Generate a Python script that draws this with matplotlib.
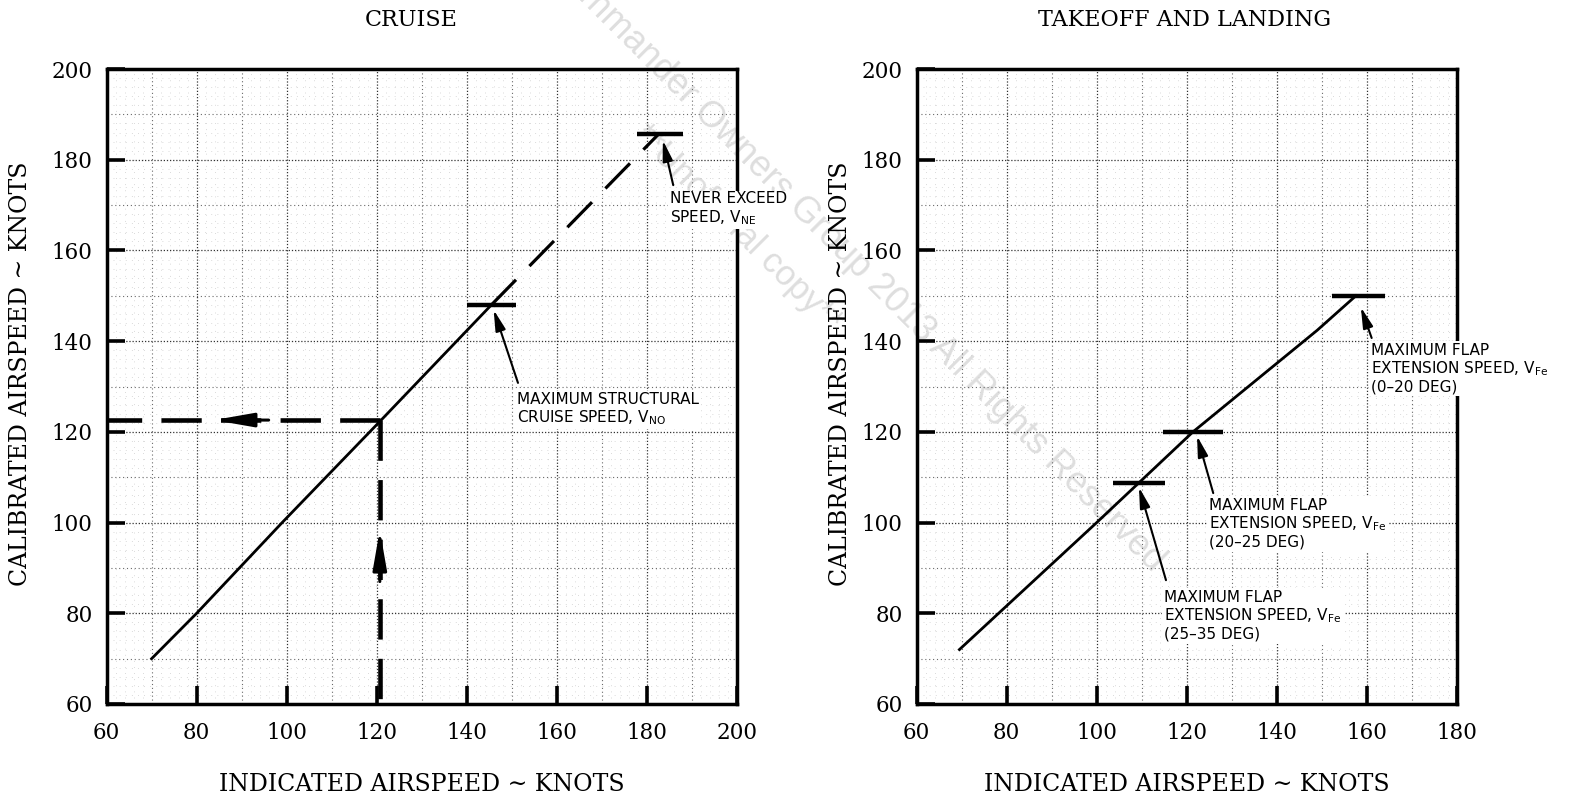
import numpy as np
import matplotlib
matplotlib.use("Agg")
import matplotlib.pyplot as plt
from matplotlib.ticker import MultipleLocator

# ---- data (knots) ----
# cruise: indicated vs calibrated airspeed
cruise_ias = [70, 80, 99, 121, 145.5]
cruise_cas = [70, 80, 100, 122.6, 148]
vne_ias = [145.5, 182.6]
vne_cas = [148, 185.6]
example_ias = 120.7
example_cas = 122.6
vno_bar_x = [140, 151]
vno_cas = 148
vne_bar_x = [177.8, 188.1]
vne_bar_cas = 185.6

# takeoff and landing
to_ias = [69.5, 100, 121.4, 149, 157.6]
to_cas = [72, 100, 120, 142.4, 150]
flap_bar_x = [[152.3, 164.0], [114.7, 128.0], [103.6, 115.2]]
flap_cas = [150, 120, 108.8]
flap_tip = [(158.7, 147.5), (122.3, 119.1), (109.4, 107.8)]
flap_tail = [(161.1, 140.7), (125.9, 106.5), (115.4, 87.3)]
flap_label_pos = [(161.0, 139.6), (125.0, 105.4), (115.0, 85.1)]
flap_labels = ["MAXIMUM FLAP\nEXTENSION SPEED, V$_{\\mathregular{Fe}}$\n(0\u201320 DEG)",
               "MAXIMUM FLAP\nEXTENSION SPEED, V$_{\\mathregular{Fe}}$\n(20\u201325 DEG)",
               "MAXIMUM FLAP\nEXTENSION SPEED, V$_{\\mathregular{Fe}}$\n(25\u201335 DEG)"]

serif = ["DejaVu Serif", "DejaVu Sans"]
sans = "DejaVu Sans"

fig = plt.figure(figsize=(15.87, 7.98), dpi=100)
ax1 = fig.add_axes([0.0672, 0.1178, 0.397, 0.7957])
ax2 = fig.add_axes([0.5776, 0.1178, 0.3403, 0.7957])


def style_axes(ax, xmax, ylabelpad):
    ax.set_facecolor("none")
    ax.set_xlim(60, xmax)
    ax.set_ylim(60, 200)
    ax.xaxis.set_major_locator(MultipleLocator(20))
    ax.yaxis.set_major_locator(MultipleLocator(20))
    ax.xaxis.set_minor_locator(MultipleLocator(10))
    ax.yaxis.set_minor_locator(MultipleLocator(10))
    ax.grid(which="major", color="#333333", lw=0.9, ls=(0, (1, 1.5)))
    ax.grid(which="minor", color="#6a6a6a", lw=0.8, ls=(0, (1, 2.5)))
    # faint dot rows every 2 knots
    fine_x = [v for v in np.arange(60, xmax, 2) if v % 10]
    fine_y = [v for v in np.arange(60, 200, 2) if v % 10]
    ax.vlines(fine_x, 60, 200, colors="#c4c4c4", lw=0.55, ls=(0, (1, 7)), zorder=0.5)
    ax.hlines(fine_y, 60, xmax, colors="#c4c4c4", lw=0.55, ls=(0, (1, 7)), zorder=0.5)
    ax.tick_params(which="major", direction="in", length=13, width=2.6,
                   labelsize=15.5, color="black")
    ax.tick_params(axis="x", which="major", pad=13)
    ax.tick_params(axis="y", which="major", pad=10)
    ax.tick_params(which="minor", length=0)
    for lab in ax.get_xticklabels() + ax.get_yticklabels():
        lab.set_family(serif)
    for sp in ax.spines.values():
        sp.set_linewidth(2.5)
        sp.set_color("black")
    ax.set_xlabel("INDICATED AIRSPEED \u223c KNOTS", family=serif, fontsize=17, labelpad=21)
    ax.set_ylabel("CALIBRATED AIRSPEED \u223c KNOTS", family=serif, fontsize=17,
                  labelpad=ylabelpad)
    ax.yaxis.label.set_y(0.52)


style_axes(ax1, 200, 14)
style_axes(ax2, 180, 7)
ax1.set_title("CRUISE", family=serif, fontsize=16, pad=31, x=0.483)
ax2.set_title("TAKEOFF AND LANDING", family=serif, fontsize=16, pad=31, x=0.497)

label_box = dict(fc="white", ec="none", pad=1.5)
arrow_thin = dict(arrowstyle="-|>,head_length=0.9,head_width=0.22", mutation_scale=14,
                  lw=1.5, color="black", shrinkA=0, shrinkB=0)

# ---- cruise chart ----
ax1.plot(cruise_ias, cruise_cas, color="black", lw=2.0, zorder=3)
ax1.plot(vne_ias, vne_cas, color="black", lw=2.3, ls=(0, (11, 6)), zorder=3)
ax1.hlines(vno_cas, *vno_bar_x, color="black", lw=3.2, zorder=3)
ax1.hlines(vne_bar_cas, *vne_bar_x, color="black", lw=3.2, zorder=3)

# example path: up from IAS, then left to CAS
ax1.plot([example_ias, example_ias], [example_cas, 60], color="black", lw=3.3,
         ls=(0, (8.8, 4.2)), zorder=3, clip_on=False)
ax1.plot([example_ias, 60], [example_cas, example_cas], color="black", lw=3.3,
         ls=(0, (8.8, 4.2)), zorder=3, clip_on=False)
arrow_thick = dict(arrowstyle="-|>,head_length=2.4,head_width=0.42", mutation_scale=10,
                   lw=2.2, color="black", shrinkA=0, shrinkB=0)
ax1.annotate("", xy=(83.8, example_cas), xytext=(96, example_cas), arrowprops=arrow_thick)
ax1.annotate("", xy=(example_ias, 98.4), xytext=(example_ias, 87), arrowprops=arrow_thick)

ax1.annotate("", xy=(146.0, 146.9), xytext=(151.4, 130.8), arrowprops=arrow_thin)
ax1.text(151.1, 128.9, "MAXIMUM STRUCTURAL\nCRUISE SPEED, V$_{\\mathregular{NO}}$",
         family=sans, fontsize=11, ha="left", va="top", linespacing=1.1,
         bbox=label_box, zorder=4, clip_on=False)
ax1.annotate("", xy=(183.6, 184.3), xytext=(185.9, 174.4), arrowprops=arrow_thin)
ax1.text(185.2, 173.0, "NEVER EXCEED\nSPEED, V$_{\\mathregular{NE}}$",
         family=sans, fontsize=11, ha="left", va="top", linespacing=1.1,
         bbox=label_box, zorder=4, clip_on=False)

# ---- takeoff and landing chart ----
ax2.plot(to_ias, to_cas, color="black", lw=2.0, zorder=3)
for bx, cas, tip, tail, pos, txt in zip(flap_bar_x, flap_cas, flap_tip, flap_tail,
                                        flap_label_pos, flap_labels):
    ax2.hlines(cas, *bx, color="black", lw=3.2, zorder=3)
    ax2.annotate("", xy=tip, xytext=tail, arrowprops=arrow_thin)
    ax2.text(pos[0], pos[1], txt, family=sans, fontsize=11, ha="left", va="top",
             linespacing=1.1, bbox=label_box, zorder=4, clip_on=False)

# watermark of the scanned page
fig.text(855 / 1587, 1 - 262 / 798, "Commander Owners Group 2013 All Rights Reserved",
         family="Liberation Sans", fontsize=26, color="#dedede", rotation=-45,
         rotation_mode="anchor", ha="center", va="center", zorder=-1)
fig.text(738 / 1587, 1 - 228 / 798, "**Unofficial copy**",
         family="Liberation Sans", fontsize=25, color="#dedede", rotation=-45,
         rotation_mode="anchor", ha="center", va="center", zorder=-1)

fig.savefig("out.png", dpi=100, facecolor="white")
